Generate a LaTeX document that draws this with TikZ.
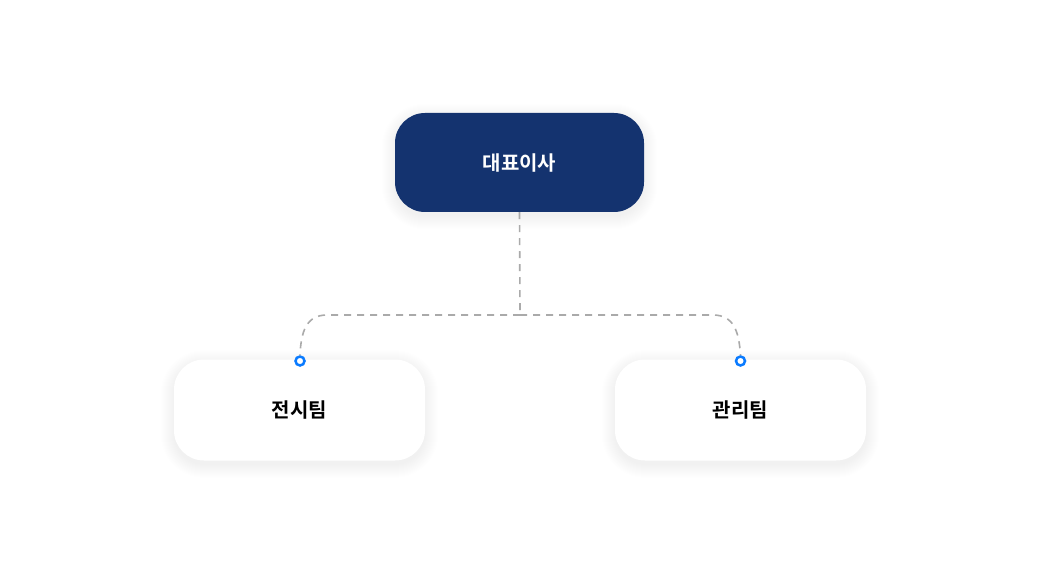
\documentclass[tikz,border=0pt]{standalone}
\usepackage{fontspec}
\newfontfamily\kr{Noto Sans CJK KR}[BoldFont={Noto Sans CJK KR Bold}]
\usetikzlibrary{calc}
\pgfdeclarelayer{bg}
\pgfdeclarelayer{shadow}
\pgfsetlayers{bg,shadow,main}
\definecolor{navy}{HTML}{14336F}
\definecolor{dotblue}{HTML}{0A7BFF}
\definecolor{dashgray}{HTML}{AAAAAA}
\begin{document}
\begin{tikzpicture}[x=1pt,y=-1pt,
  topbox/.style={rounded corners=30pt, fill=navy, minimum width=249pt, minimum height=99pt, inner sep=0pt},
  teambox/.style={rounded corners=30pt, fill=white, minimum width=251pt, minimum height=101pt, inner sep=0pt},
  lbl/.style={font=\kr\bfseries\fontsize{20}{24}\selectfont},
  link/.style={draw=dashgray, line width=1.6pt, dash pattern=on 7pt off 6pt},
  pin/.style={circle, draw=dotblue, fill=white, line width=2.5pt, minimum size=9pt, inner sep=0pt},
  softshadow/.style={fill=black, opacity=0.0055}]
\begin{pgfonlayer}{bg}
\fill[white] (0,0) rectangle (1040,569);
\end{pgfonlayer}
\useasboundingbox (0,0) rectangle (1040,569);
\node[topbox] (ceo) at (519.5,162.5) {};
\node[lbl, text=white] (ceot) at ($(ceo.center)+(0,1)$) {대표이사};
\node[teambox] (left) at (299.5,410) {};
\node[lbl, text=black] (leftt) at (left.center) {전시팀};
\node[teambox] (right) at (740.5,410) {};
\node[lbl, text=black] (rightt) at (right.center) {관리팀};
\begin{pgfonlayer}{shadow}
\foreach \n in {ceo,left,right}{
  \foreach \r in {0,...,13}{
    \fill[softshadow, rounded corners={30pt+\r pt}]
      ($(\n.south west)+(-\r,\r+4)$) rectangle ($(\n.north east)+(\r,-\r+4)$);
  }
}
\end{pgfonlayer}
\coordinate (j) at (520,315);
\node[pin] (pl) at (300,361) {};
\node[pin] (pr) at (740.5,361) {};
\draw[link] (ceo.south) -- (j);
\draw[link] (j) -- (327,315) .. controls (306,315) and (301,332) .. (pl.north);
\draw[link] (j) -- (713,315) .. controls (734,315) and (739,332) .. (pr.north);
\end{tikzpicture}
\end{document}
